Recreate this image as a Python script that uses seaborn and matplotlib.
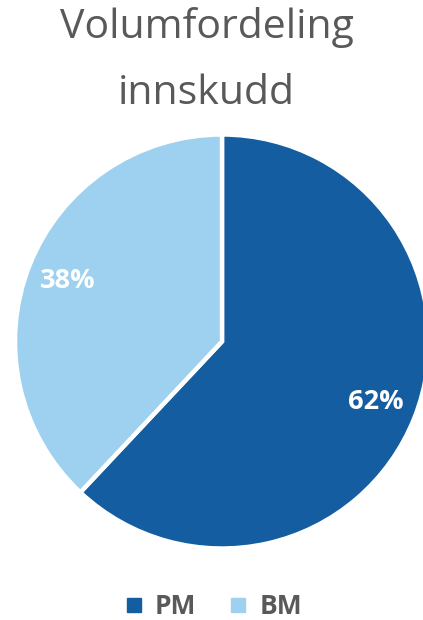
import matplotlib
matplotlib.use("Agg")
import matplotlib.pyplot as plt
import seaborn as sns
from matplotlib.lines import Line2D

categories = ["PM", "BM"]
values = [62, 38]
pct_labels = ["62%", "38%"]
colors = ["#145da0", "#9dd1ef"]
title_lines = ["Volumfordeling", "innskudd"]

sns.set_theme(style="white")
plt.rcParams["font.family"] = ["Open Sans", "DejaVu Sans"]

W, H = 423, 620
fig = plt.figure(figsize=(W / 100, H / 100), dpi=100)
ax = fig.add_axes([0, 0, 1, 1])

wedges, texts = ax.pie(
    values,
    colors=colors,
    startangle=90,
    counterclock=False,
    center=(222, H - 341.5),
    radius=207,
    labels=pct_labels,
    labeldistance=0.8,
    wedgeprops=dict(edgecolor="white", linewidth=3.2),
    textprops=dict(color="white", fontsize=19.5, fontweight="bold", ha="center", va="center"),
)
ax.set_xlim(0, W)
ax.set_ylim(0, H)
ax.set_aspect("equal")
ax.axis("off")

fig.text(207 / W, 1 - 38 / H, title_lines[0], ha="center", va="baseline",
         fontsize=29.5, color="#595959")
fig.text(206 / W, 1 - 104 / H, title_lines[1], ha="center", va="baseline",
         fontsize=29.5, color="#595959")

handles = [Line2D([], [], linestyle="none", marker="s", markersize=10.5,
                  markerfacecolor=c, markeredgecolor=c) for c in colors]
leg = ax.legend(handles, categories, loc="center", bbox_to_anchor=(214 / W, 1 - 607 / H),
                bbox_transform=fig.transFigure, ncol=2, frameon=False,
                handlelength=0.6, handletextpad=0.5, columnspacing=1.3,
                prop=dict(size=19, weight="bold"))
for t in leg.get_texts():
    t.set_color("#595959")

fig.savefig("out.png", dpi=100)
